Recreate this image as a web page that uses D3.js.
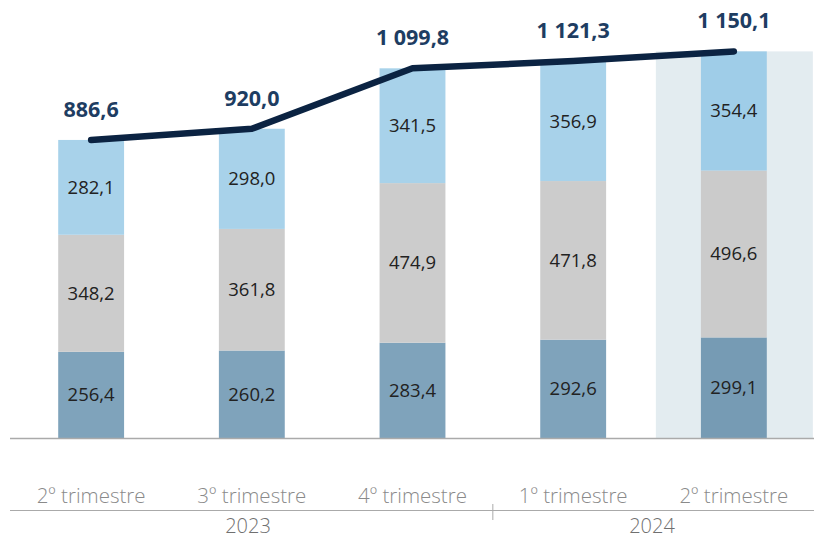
<!DOCTYPE html>
<html><head><meta charset="utf-8">
<script src="https://cdn.jsdelivr.net/npm/d3@7"></script>
<style>body{margin:0;background:#fff;}svg{display:block;font-family:"Open Sans",sans-serif;}</style>
</head><body>
<svg id="c" width="814" height="539"></svg>
<script>
const categories = ["2º trimestre","3º trimestre","4º trimestre","1º trimestre","2º trimestre"];
const years = [{label:"2023", from:0, to:2},{label:"2024", from:3, to:4}];
const bottomVals = [256.4, 260.2, 283.4, 292.6, 299.1];
const middleVals = [348.2, 361.8, 474.9, 471.8, 496.6];
const topVals = [282.1, 298.0, 341.5, 356.9, 354.4];
const totals = [886.6, 920.0, 1099.8, 1121.3, 1150.1];
const highlightIndex = 4;

const fmt = v => {
  const s = v.toFixed(1).replace(".", ",");
  const [i, d] = s.split(",");
  return i.replace(/\B(?=(\d{3})+(?!\d))/g, " ") + "," + d;
};

const svg = d3.select("#c");
const x = d3.scaleBand().domain(d3.range(categories.length)).range([10, 815]).paddingInner(0.59).paddingOuter(0.3);
const y = d3.scaleLinear().domain([0, 1150.1]).range([438, 51.4]);

// highlight background
svg.append("rect")
  .attr("x", x(highlightIndex) + x.bandwidth()/2 - 78).attr("y", y(1150.1))
  .attr("width", 157).attr("height", y(0) - y(1150.1))
  .attr("fill", "#e3ecf0");

const series = [
  {color: "#7fa3bb", hcolor: "#769bb4"},
  {color: "#cccccc", hcolor: "#cbcbcb"},
  {color: "#a8d2ea", hcolor: "#9fcde8"}
];
const data = categories.map((c, i) => ({i, b: bottomVals[i], m: middleVals[i], t: topVals[i]}));
const stack = d3.stack().keys(["b","m","t"])(data);

stack.forEach((layer, li) => {
  const g = svg.append("g");
  g.selectAll("rect").data(layer).join("rect")
    .attr("x", d => x(d.data.i)).attr("width", x.bandwidth())
    .attr("y", d => y(d[1])).attr("height", d => y(d[0]) - y(d[1]))
    .attr("fill", d => d.data.i === highlightIndex ? series[li].hcolor : series[li].color);
  g.selectAll("text").data(layer).join("text")
    .attr("x", d => x(d.data.i) + x.bandwidth()/2)
    .attr("y", d => (y(d[0]) + y(d[1]))/2)
    .attr("dy", "0.35em")
    .attr("text-anchor", "middle")
    .attr("font-size", 18.5).attr("fill", "#222")
    .text(d => fmt(d[1] - d[0]));
});

// baseline axis
svg.append("line").attr("x1", 10).attr("x2", 814).attr("y1", 438.5).attr("y2", 438.5)
  .attr("stroke", "#aaaaaa").attr("stroke-width", 1.5);

// total line
const line = d3.line().x((d, i) => x(i) + x.bandwidth()/2).y(d => y(d));
svg.append("path").datum(totals).attr("d", line)
  .attr("fill", "none").attr("stroke", "#0b2342").attr("stroke-width", 6.5)
  .attr("stroke-linecap", "round").attr("stroke-linejoin", "round");

svg.selectAll(".tot").data(totals).join("text").attr("class", "tot")
  .attr("x", (d, i) => x(i) + x.bandwidth()/2)
  .attr("y", d => y(d) - 23)
  .attr("text-anchor", "middle").attr("font-size", 21.5).attr("font-weight", 700)
  .attr("fill", "#1e3d62").text(d => fmt(d));

// category labels
svg.selectAll(".cat").data(categories).join("text").attr("class", "cat")
  .attr("x", (d, i) => x(i) + x.bandwidth()/2).attr("y", 503)
  .attr("text-anchor", "middle").attr("font-size", 20.5).attr("font-weight", 300)
  .attr("fill", "#8a8a8a").text(d => d);

// year axis
svg.append("line").attr("x1", 10).attr("x2", 814).attr("y1", 510.5).attr("y2", 510.5)
  .attr("stroke", "#aaaaaa").attr("stroke-width", 1.2);
const sepX = (x(2) + x(3) + x.bandwidth())/2;
svg.append("line").attr("x1", sepX).attr("x2", sepX).attr("y1", 504).attr("y2", 520)
  .attr("stroke", "#aaaaaa").attr("stroke-width", 1);
svg.selectAll(".yr").data(years).join("text").attr("class", "yr")
  .attr("x", d => d.from === 0 ? 248 : 652).attr("y", 533)
  .attr("text-anchor", "middle").attr("font-size", 20).attr("font-weight", 300)
  .attr("fill", "#707070").text(d => d.label);
</script>
</body></html>
